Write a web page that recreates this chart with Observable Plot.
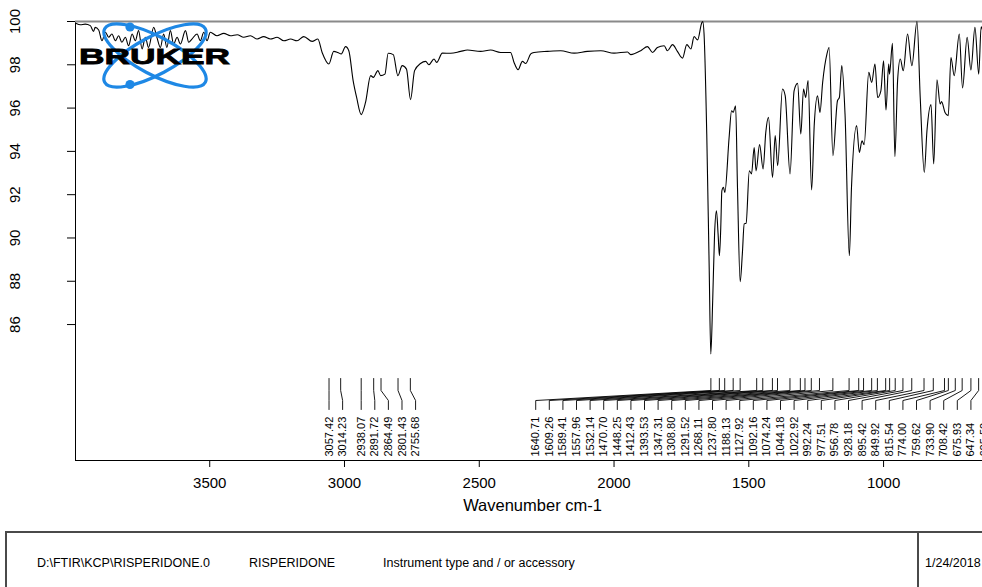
<!DOCTYPE html>
<html>
<head>
<meta charset="utf-8">
<script src="https://cdn.jsdelivr.net/npm/d3@7"></script>
<script src="https://cdn.jsdelivr.net/npm/@observablehq/plot@0.6"></script>
<style>
  html, body { margin: 0; padding: 0; width: 982px; height: 587px; overflow: hidden; background: white; }
  #chart { position: absolute; left: 0; top: 0; }
  #footer { position: absolute; left: 5px; top: 531px; width: 1000px; height: 80px;
            border-top: 2px solid #4a4a4a; border-left: 2px solid #4a4a4a;
            font: 12.5px "Liberation Sans", Arial, sans-serif; color: #000; }
  #footer span { position: absolute; top: 23px; line-height: 14px; white-space: nowrap; }
  #footer .div { position: absolute; left: 910px; top: 0; height: 100%; border-left: 2px solid #4a4a4a; }
</style>
</head>
<body>
<div id="chart"></div>
<div id="footer">
  <span style="left:30px">D:\FTIR\KCP\RISPERIDONE.0</span>
  <span style="left:242px">RISPERIDONE</span>
  <span style="left:376px">Instrument type and / or accessory</span>
  <div class="div"></div>
  <span style="left:918px">1/24/2018</span>
</div>
<script>
// ---- data ----
const wavenumbers = [
  3995,3980,3962,3943,3931,3925,3912,3900,3887,3875,3863,3850,3838,3826,3813,3801,3788,3776,3764,3751,
  3739,3727,3708,3696,3683,3671,3659,3646,3634,3621,3609,3590,3578,3566,3547,3535,3522,3510,3498,3473,
  3448,3423,3398,3374,3349,3324,3300,3275,3250,3225,3200,3176,3151,3120,3099,3083,3058,3040,3025,3012,
  2996,2984,2968,2955,2938,2922,2903,2893,2876,2866,2850,2838,2819,2802,2786,2770,2755,2740,2718,2699,
  2687,2668,2658,2637,2606,2569,2544,2495,2458,2421,2384,2371,2356,2340,2328,2309,2297,2247,2198,2148,
  2099,2049,2000,1950,1938,1901,1876,1857,1839,1814,1802,1783,1765,1746,1730,1715,1703,1690,1675,1671,
  1666,1656,1647,1641,1634,1627,1620,1614,1609,1604,1600,1594,1589,1573,1564,1558,1549,1542,1532,1524,
  1517,1510,1498,1490,1480,1473,1460,1447,1437,1427,1412,1402,1393,1375,1365,1347,1332,1319,1307,1297,
  1289,1280,1267,1257,1245,1236,1226,1210,1202,1188,1171,1164,1155,1143,1127,1119,1100,1090,1080,1072,
  1055,1044,1032,1022,1010,1000,991,981,978,967,958,948,938,927,911,895,876,864,849,839,
  824,814,802,790,785,772,760,750,738,719,707,690,676,661,647,638,628,607
];
const transmittance = [
  99.91,99.85,99.88,99.81,99.54,99.73,99.61,99.11,99.50,99.27,99.42,99.11,99.34,99.04,99.27,98.88,99.42,99.11,99.58,98.73,
  99.27,98.80,99.73,99.27,98.80,99.42,98.80,99.58,98.96,99.27,98.96,99.58,99.04,99.19,99.42,99.11,99.50,99.11,99.50,99.34,
  99.45,99.34,99.39,99.27,99.34,99.19,99.30,99.19,99.27,99.11,99.19,99.11,99.30,99.08,99.19,98.57,98.04,98.62,98.57,98.50,
  98.84,98.65,97.27,96.49,95.70,96.26,97.50,97.42,97.73,97.50,97.57,98.53,98.47,97.50,97.96,97.80,96.39,97.73,98.06,98.16,
  98.00,98.27,98.11,98.54,98.53,98.62,98.68,98.62,98.68,98.57,98.57,98.11,97.77,98.16,98.06,98.50,98.57,98.62,98.65,98.54,
  98.62,98.65,98.54,98.59,98.47,98.65,98.84,98.57,98.80,98.88,98.65,98.93,98.62,98.31,98.93,98.73,99.30,99.15,99.92,100.0,
  99.42,94.80,88.64,84.64,87.10,90.18,91.26,90.20,89.18,90.49,92.18,92.34,92.10,94.65,95.88,95.80,96.10,92.34,87.98,89.26,
  90.65,90.68,93.10,92.96,94.18,93.10,94.31,93.19,94.88,95.57,92.80,94.73,93.34,96.88,96.58,92.96,96.80,97.14,94.80,96.88,
  96.49,97.27,92.22,95.27,96.57,95.80,97.19,98.50,98.80,93.80,96.34,96.49,97.96,95.73,89.18,92.34,95.19,93.95,94.49,94.31,
  97.65,97.19,98.04,96.49,96.80,98.19,95.91,98.04,97.57,98.99,93.76,97.27,98.27,97.73,99.42,97.96,100.0,96.49,93.03,94.96,
  96.16,93.42,97.31,96.19,96.30,95.80,95.65,98.34,97.50,99.42,96.93,99.27,97.76,99.73,97.57,99.76,99.40,99.00
];
const peakWavenumbers = [
  3057.42,3014.23,2938.07,2891.72,2864.49,2801.43,2755.68,
  1640.71,1609.26,1589.41,1557.96,1532.14,1470.70,1448.25,1412.43,1393.53,1347.31,1308.80,1291.52,1268.11,
  1237.80,1188.13,1127.92,1092.16,1074.24,1044.18,1022.92,992.24,977.51,956.78,928.18,895.42,849.92,815.54,
  774.00,759.62,733.90,708.42,675.93,647.34,625.52
];
const xTicks = [3500, 3000, 2500, 2000, 1500, 1000];
const yTicks = [86, 88, 90, 92, 94, 96, 98, 100];
const xLabel = "Wavenumber cm-1";

// ---- layout ----
const W = 989, H = 520, ML = 75, MR = 0, MT = 21, MB = 60;
const xDomain = [3998, 607];
const yDomain = [79.72, 100];
const plotH = H - MT - MB;
const yAt = px => yDomain[0] + px * (yDomain[1] - yDomain[0]) / plotH; // px above frame bottom
const pxPerWn = (W - ML - MR) / (xDomain[0] - xDomain[1]);
const spacing = 13.6 / pxPerWn;

const spectrum = wavenumbers.map((w, i) => ({w, t: transmittance[i]}));

// label layout: spread labels so they never overlap
const n = peakWavenumbers.length;
const pos = peakWavenumbers.slice();
for (let i = 1; i < n; i++) pos[i] = Math.min(pos[i], pos[i - 1] - spacing);
pos[n - 1] = Math.max(pos[n - 1], peakWavenumbers[n - 1]);
for (let i = n - 2; i >= 0; i--) pos[i] = Math.max(pos[i], pos[i + 1] + spacing);

const labels = peakWavenumbers.map((p, i) => ({peak: p, pos: pos[i], text: p.toFixed(2)}));
const leaders = [];
labels.forEach((d, i) => {
  leaders.push({k: i, x: d.peak, y: yAt(82)});
  leaders.push({k: i, x: d.peak, y: yAt(70)});
  leaders.push({k: i, x: d.pos, y: yAt(60)});
  leaders.push({k: i, x: d.pos, y: yAt(51)});
});

const chart = Plot.plot({
  width: W, height: H,
  marginLeft: ML, marginRight: MR, marginTop: MT, marginBottom: MB,
  style: {maxWidth: "none", fontFamily: "'Liberation Sans', Arial, sans-serif", fontSize: "15px", color: "black", background: "white", overflow: "visible"},
  x: {domain: xDomain, ticks: xTicks, tickSize: 7, tickPadding: 10, tickFormat: d3.format("d"), line: true, label: null},
  y: {domain: yDomain, ticks: yTicks, tickSize: 8, tickFormat: () => "", line: true, label: null},
  marks: [
    Plot.ruleY([yDomain[1]], {stroke: "#8a8a8a", strokeWidth: 2}),
    Plot.line(spectrum, {x: "w", y: "t", stroke: "black", strokeWidth: 1.1, curve: "monotone-x"}),
    Plot.line(leaders, {x: "x", y: "y", z: "k", stroke: "black", strokeWidth: 0.9}),
    Plot.text(labels, {x: "pos", text: "text", frameAnchor: "bottom", dy: -4, rotate: -90,
      textAnchor: "start", lineAnchor: "middle", fontSize: 11, fill: "black"}),
    Plot.text(yTicks, {y: d => d, text: d => String(d), frameAnchor: "left", dx: -60, rotate: -90,
      textAnchor: "middle", lineAnchor: "middle", fontSize: 15, fill: "black"}),
    Plot.text([xLabel], {text: d => d, frameAnchor: "bottom", dy: 50, fontSize: 16.5, fill: "black"})
  ]
});
document.getElementById("chart").appendChild(chart);

// ---- Bruker logo (decoration) ----
const svg = d3.select(chart);
const logo = svg.append("g");
const blue = "#1e88e5";
[28, -28].forEach(a => {
  logo.append("ellipse").attr("cx", 155).attr("cy", 55.5).attr("rx", 57).attr("ry", 19)
    .attr("transform", `rotate(${a},155,55.5)`).attr("fill", "none")
    .attr("stroke", blue).attr("stroke-width", 3.2);
});
logo.append("circle").attr("cx", 130).attr("cy", 27).attr("r", 4.6).attr("fill", blue);
logo.append("circle").attr("cx", 130).attr("cy", 84.5).attr("r", 4.6).attr("fill", blue);
logo.append("text").attr("x", 79).attr("y", 64).text("BRUKER")
  .attr("font-family", "'Liberation Sans', Arial, sans-serif").attr("font-weight", "bold")
  .attr("font-size", 22.5).attr("textLength", 151).attr("lengthAdjust", "spacingAndGlyphs")
  .attr("fill", "black").attr("stroke", "black").attr("stroke-width", 0.8).attr("text-anchor", "start");
</script>
</body>
</html>
